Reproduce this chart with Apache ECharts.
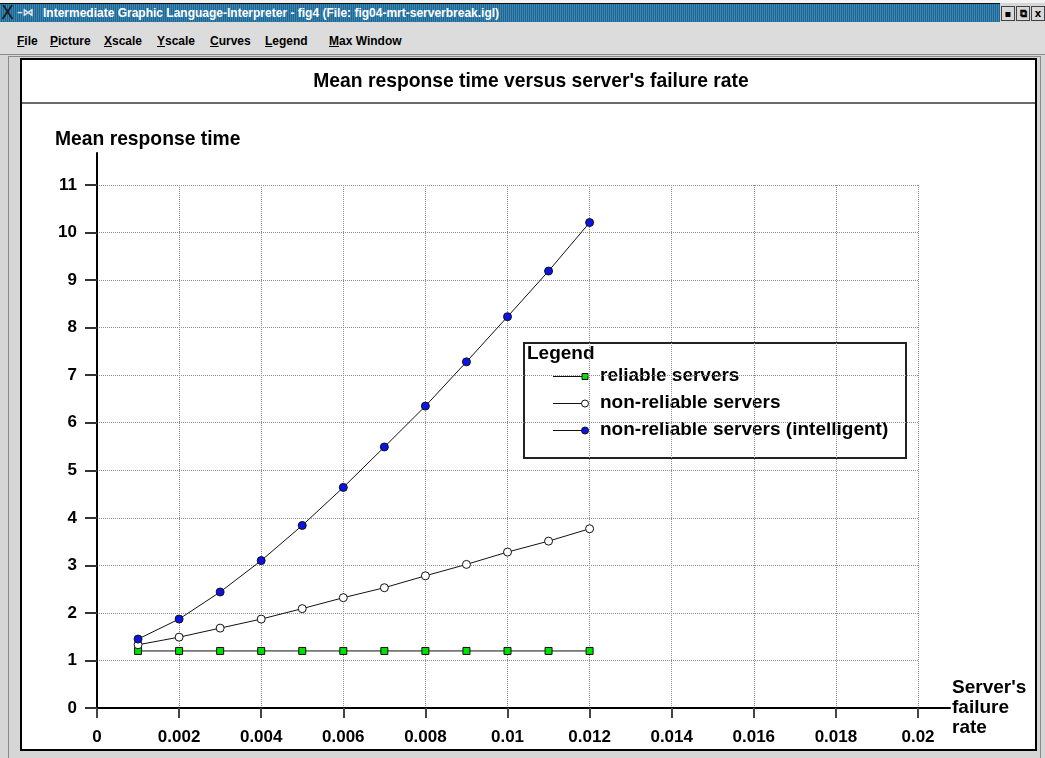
<!DOCTYPE html>
<html>
<head>
<meta charset="utf-8">
<script src="https://cdn.jsdelivr.net/npm/echarts@6/dist/echarts.min.js"></script>
<style>
html,body{margin:0;padding:0;width:1045px;height:758px;overflow:hidden;background:#d6d6d6;font-family:"Liberation Sans",Arial,sans-serif;}
.abs{position:absolute;}
#topstrip{left:0;top:0;width:1045px;height:3px;background:#f2f2f2;}
#titlebar{left:0;top:3px;width:1000px;height:18px;background-color:#1d6794;
  background-image:repeating-linear-gradient(90deg,rgba(120,190,230,0.35) 0 1px,transparent 1px 2px);
  border-top:1px solid #111;}
#ticon{left:1px;top:-1px;font:19px "DejaVu Sans",sans-serif;color:#1a1a1a;line-height:19px;}
#ticon2{left:17px;top:0;font:bold 11px "DejaVu Sans",sans-serif;color:#e8e8e8;line-height:18px;}
#ttext{left:43px;top:0;font:bold 12px "Liberation Sans",Arial,sans-serif;color:#fff;line-height:18px;white-space:nowrap;}
.btn{top:6px;width:12px;height:13px;background:#d8d8d8;border:1px solid #444;font:bold 10px "DejaVu Sans",sans-serif;line-height:13px;text-align:center;color:#000;}
#menubar{left:0;top:22px;width:1045px;height:32px;background:#dcdcdc;border-bottom:1px solid #8a8a8a;}
.mi{top:0;font:bold 12px "Liberation Sans",Arial,sans-serif;line-height:38px;color:#000;white-space:nowrap;}
.mi u{text-decoration:underline;}
#vline{left:8px;top:56px;width:1px;height:702px;background:#8a8a8a;}
#hline{left:8px;top:56px;width:1032px;height:1px;background:#8a8a8a;}
#rline{left:1040px;top:56px;width:1px;height:702px;background:#8a8a8a;}
#panel{left:20px;top:58px;width:1017px;height:693px;background:#fff;border:2px solid #000;box-sizing:border-box;}
#tsep{left:22px;top:102px;width:1013px;height:2px;background:#6a6a6a;}
#chart{left:0;top:0;width:1045px;height:758px;}
</style>
</head>
<body>
<div class="abs" id="topstrip"></div>
<div class="abs" id="titlebar">
  <span class="abs" id="ticon">X</span>
  <span class="abs" id="ticon2">–⋈</span>
  <span class="abs" id="ttext">Intermediate Graphic Language-Interpreter - fig4 (File: fig04-mrt-serverbreak.igl)</span>
</div>
<div class="abs btn" style="left:1001px">▪</div>
<div class="abs btn" style="left:1016px">⧉</div>
<div class="abs btn" style="left:1031px">x</div>
<div class="abs" id="menubar">
  <span class="abs mi" style="left:17px"><u>F</u>ile</span>
  <span class="abs mi" style="left:50px"><u>P</u>icture</span>
  <span class="abs mi" style="left:104px"><u>X</u>scale</span>
  <span class="abs mi" style="left:157px"><u>Y</u>scale</span>
  <span class="abs mi" style="left:210px"><u>C</u>urves</span>
  <span class="abs mi" style="left:265px"><u>L</u>egend</span>
  <span class="abs mi" style="left:329px"><u>M</u>ax Window</span>
</div>
<div class="abs" id="hline"></div>
<div class="abs" id="vline"></div>
<div class="abs" id="rline"></div>
<div class="abs" id="panel"></div>
<div class="abs" id="tsep"></div>
<div class="abs" id="chart"></div>
<script>
// ---- data ----
const failureRates = [0.001, 0.002, 0.003, 0.004, 0.005, 0.006, 0.007, 0.008, 0.009, 0.010, 0.011, 0.012];
const reliableServers = [1.2, 1.2, 1.2, 1.2, 1.2, 1.2, 1.2, 1.2, 1.2, 1.2, 1.2, 1.2];
const nonReliableServers = [1.33, 1.49, 1.68, 1.87, 2.09, 2.32, 2.53, 2.78, 3.02, 3.28, 3.51, 3.77];
const nonReliableIntelligent = [1.45, 1.87, 2.44, 3.10, 3.84, 4.64, 5.49, 6.35, 7.28, 8.23, 9.19, 10.21];
const seriesNames = ['reliable servers', 'non-reliable servers', 'non-reliable servers (intelligent)'];
const xTickLabels = ['0', '0.002', '0.004', '0.006', '0.008', '0.01', '0.012', '0.014', '0.016', '0.018', '0.02'];
const yTickLabels = ['0', '1', '2', '3', '4', '5', '6', '7', '8', '9', '10', '11'];
const chartTitle = "Mean response time versus server's failure rate";
const yAxisName = 'Mean response time';
const xAxisName = "Server's\nfailure\nrate";
const legendTitle = 'Legend';

// ---- styles ----
const FONT = 'Liberation Sans';
const markerStyles = [
  {symbol: 'rect', size: 7, color: '#00e000'},
  {symbol: 'circle', size: 8, color: '#ffffff'},
  {symbol: 'circle', size: 8, color: '#0a14e6'}
];
const seriesData = [reliableServers, nonReliableServers, nonReliableIntelligent];

const xStep = 0.002;
const labelStyle = {fontFamily: FONT, fontWeight: 'bold', fontSize: 17, color: '#000'};
const gridLine = {show: true, lineStyle: {color: '#8c8c8c', width: 1, type: [1, 1]}};

const series = seriesNames.map((name, i) => ({
  name: name,
  type: 'line',
  xAxisIndex: 0, yAxisIndex: 0,
  data: failureRates.map((x, k) => [x, seriesData[i][k]]),
  symbol: markerStyles[i].symbol,
  symbolSize: markerStyles[i].size,
  showAllSymbol: true,
  lineStyle: {color: '#111', width: 1},
  itemStyle: {color: markerStyles[i].color, borderColor: '#111', borderWidth: 1},
  emphasis: {disabled: true},
  z: 3 + i
}));

// legend built as graphic from series names
const lgX = 524, lgY = 343, lgW = 382, lgH = 115;
const LGFONT = 'bold 19px "' + FONT + '"';
const legendChildren = [
  {type: 'rect', shape: {x: lgX, y: lgY, width: lgW, height: lgH},
   style: {fill: '#fff', stroke: '#222', lineWidth: 2}},
  {type: 'text', x: lgX + 3, y: 354,
   style: {text: legendTitle, font: LGFONT, fill: '#000', verticalAlign: 'middle', align: 'left'}}
];
seriesNames.forEach((name, i) => {
  const cy = 376 + i * 27;
  legendChildren.push({type: 'line', shape: {x1: 553, y1: cy + 0.5, x2: 583, y2: cy + 0.5}, style: {stroke: '#111', lineWidth: 1}});
  if (markerStyles[i].symbol === 'rect') {
    legendChildren.push({type: 'rect', shape: {x: 582, y: cy - 2.5, width: 6, height: 6},
      style: {fill: markerStyles[i].color, stroke: '#111', lineWidth: 1}});
  } else {
    legendChildren.push({type: 'circle', shape: {cx: 585, cy: cy + 0.5, r: 3.5},
      style: {fill: markerStyles[i].color, stroke: '#111', lineWidth: 1}});
  }
  legendChildren.push({type: 'text', x: 600, y: cy,
    style: {text: name, font: LGFONT, fill: '#000', verticalAlign: 'middle', align: 'left'}});
});

const chart = echarts.init(document.getElementById('chart'), null, {renderer: 'canvas'});
chart.setOption({
  animation: false,
  backgroundColor: 'transparent',
  title: [
    {text: chartTitle, left: 526, top: 66, textAlign: 'center',
     textStyle: {fontFamily: FONT, fontWeight: 'bold', fontSize: 19.3, color: '#000', lineHeight: 22}},
    {text: yAxisName, left: 50, top: 124,
     textStyle: {fontFamily: FONT, fontWeight: 'bold', fontSize: 19.3, color: '#000', lineHeight: 22}}
  ],
  grid: [
    {left: 97, right: 127, top: 185, bottom: 50},
    {left: 97, right: 95, top: 153, bottom: 50}
  ],
  xAxis: [
    {type: 'value', gridIndex: 0, min: 0, max: 0.02, interval: xStep,
     axisLine: {show: false},
     axisTick: {show: true, length: 10, lineStyle: {color: '#444', width: 2}},
     axisLabel: Object.assign({margin: 21, formatter: v => xTickLabels[Math.round(v / xStep)] || ''}, labelStyle),
     splitLine: gridLine},
    {type: 'value', gridIndex: 1, min: 0, max: 1,
     axisLine: {show: true, onZero: false, lineStyle: {color: '#000', width: 2}},
     axisTick: {show: false}, axisLabel: {show: false}, splitLine: {show: false},
     name: xAxisName, nameLocation: 'end', nameGap: 2,
     nameTextStyle: {fontFamily: FONT, fontWeight: 'bold', fontSize: 19, color: '#000',
       align: 'left', verticalAlign: 'middle', lineHeight: 20}}
  ],
  yAxis: [
    {type: 'value', gridIndex: 0, min: 0, max: 11, interval: 1,
     axisLine: {show: false},
     axisTick: {show: true, length: 12, lineStyle: {color: '#333', width: 2}},
     axisLabel: Object.assign({margin: 20, formatter: v => yTickLabels[Math.round(v)] || ''}, labelStyle),
     splitLine: gridLine},
    {type: 'value', gridIndex: 1, min: 0, max: 1,
     axisLine: {show: true, onZero: false, lineStyle: {color: '#000', width: 2}},
     axisTick: {show: false}, axisLabel: {show: false}, splitLine: {show: false}}
  ],
  series: series,
  graphic: [{type: 'group', z: 100, children: legendChildren}]
});
</script>
</body>
</html>
